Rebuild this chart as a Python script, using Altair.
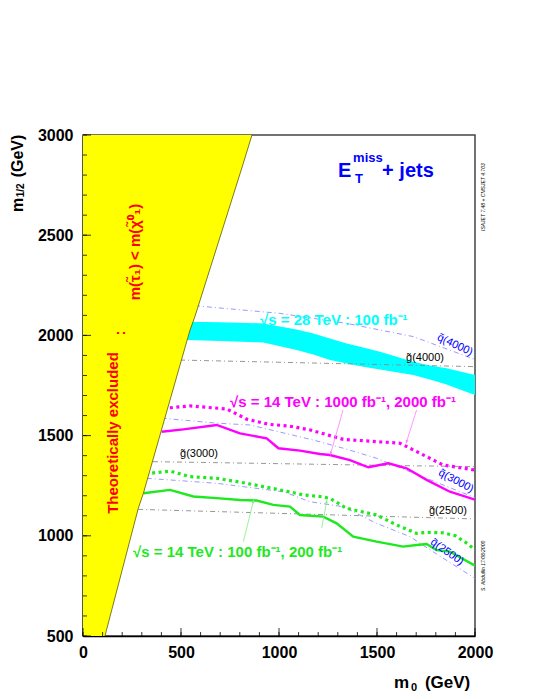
import math
import altair as alt
import pandas as pd

FONT = "Liberation Sans"

# ---------------- data ----------------
# theoretically excluded region (yellow): boundary m0 as a function of m1/2
excl_m = [500, 1137, 1212, 2027, 2094, 2859, 3000]
excl_m0 = [112, 282, 308, 546, 571, 818, 862]

# sqrt(s)=28 TeV, 100 fb-1 band (cyan)
band_m0 = [450, 530, 700, 920, 1090, 1175, 1260, 1345, 1430, 1515, 1600, 1685, 1770, 1855, 1930, 2000]
band_top = [2070, 2068, 2066, 2060, 2030, 2010, 1985, 1960, 1940, 1919, 1893, 1869, 1850, 1836, 1818, 1802]
band_bot = [1980, 1977, 1972, 1964, 1927, 1905, 1877, 1860, 1844, 1830, 1816, 1802, 1780, 1755, 1728, 1703]

# 14 TeV, 1000 fb-1 (magenta solid)
mag1_m0 = [401, 512, 682, 801, 937, 997, 1107, 1209, 1260, 1362, 1456, 1558, 1651, 1753, 1872, 2000]
mag1_m = [1519, 1531, 1553, 1511, 1486, 1437, 1425, 1408, 1403, 1378, 1342, 1362, 1337, 1279, 1220, 1180]
# 14 TeV, 2000 fb-1 (magenta dotted)
mag2_m0 = [410, 444, 546, 733, 835, 950, 1050, 1160, 1328, 1498, 1617, 1719, 1838, 2000]
mag2_m = [1638, 1639, 1648, 1633, 1582, 1556, 1548, 1528, 1481, 1470, 1462, 1412, 1353, 1328]

# 14 TeV, 100 fb-1 (green solid)
grn1_m0 = [308, 444, 563, 682, 801, 886, 971, 1056, 1107, 1226, 1294, 1379, 1498, 1634, 1702, 1753, 1804, 1872, 2000]
grn1_m = [1212, 1229, 1196, 1188, 1179, 1176, 1154, 1146, 1104, 1096, 1062, 996, 971, 946, 954, 959, 929, 921, 851]
# 14 TeV, 200 fb-1 (green dotted)
grn2_m0 = [320, 342, 444, 546, 682, 835, 1005, 1124, 1209, 1260, 1345, 1498, 1600, 1702, 1753, 1838, 1900, 1960, 2000]
grn2_m = [1308, 1312, 1323, 1295, 1287, 1262, 1229, 1204, 1196, 1187, 1137, 1104, 1054, 1012, 1017, 1015, 1000, 962, 929]

# gluino iso-mass lines (grey dash-dot)
gl4000_m0 = [495, 1000, 1500, 2000]
gl4000_m = [1877, 1866, 1855, 1844]
gl3000_m0 = [357, 1000, 1500, 2000]
gl3000_m = [1370, 1360, 1352, 1345]
gl2500_m0 = [281, 1000, 1500, 2000]
gl2500_m = [1132, 1112, 1098, 1084]

# squark iso-mass lines (blue dash-dot)
sq4000_m0 = [571, 1005, 1345, 1685, 2000]
sq4000_m = [2148, 2110, 2060, 1994, 1880]
sq3000_m0 = [401, 682, 852, 1175, 1328, 1498, 1668, 2000]
sq3000_m = [1587, 1562, 1553, 1478, 1437, 1387, 1320, 1190]
sq2500_m0 = [325, 682, 1022, 1158, 1328, 1498, 1668, 1787, 2000]
sq2500_m = [1287, 1262, 1220, 1170, 1145, 1062, 996, 920, 787]

# arrows from labels to curves: (m0 start, m start, m0 end, m end)
arrows_mag = [(1327, 1628, 1264, 1412), (1702, 1628, 1651, 1470)]
arrows_grn = [(818, 971, 869, 1171), (1218, 1039, 1243, 1170)]

x_ticks = [0, 500, 1000, 1500, 2000]
y_ticks = [500, 1000, 1500, 2000, 2500, 3000]
x_minor = list(range(0, 2001, 100))
y_minor = list(range(500, 3001, 100))

# ---------------- chart ----------------
W, H = 392, 501
XD, YD = [0, 2000], [500, 3000]
SX, SY = W / (XD[1] - XD[0]), H / (YD[1] - YD[0])

CYAN = "#00ffff"
MAG = "#ff00ff"
GRN = "#1ee81e"
RED = "#ff0000"
BLUE = "#0000ff"

xs = alt.Scale(domain=XD, nice=False, zero=False)
ys = alt.Scale(domain=YD, nice=False, zero=False)
XAX = alt.Axis(values=x_ticks, title=None, format="d", labelPadding=8, ticks=False, grid=False,
               labelFlush=False, labelOverlap=False)
YAX = alt.Axis(values=y_ticks, title=None, format="d", labelPadding=10, ticks=False, grid=False,
               labelFlush=False, labelOverlap=False)


def X(f="x"):
    return alt.X(f"{f}:Q", scale=xs, axis=XAX)


def Y(f="y"):
    return alt.Y(f"{f}:Q", scale=ys, axis=YAX)


layers = []

# cyan band
band_df = pd.DataFrame({"x": band_m0, "y": band_top, "y2": band_bot})
layers.append(alt.Chart(band_df).mark_area(color=CYAN, clip=True).encode(x=X(), y=Y(), y2="y2:Q"))


def line(m0, m, color, width, dash=None, opacity=1.0):
    df = pd.DataFrame({"x": m0, "y": m})
    kw = dict(color=color, strokeWidth=width, clip=True, opacity=opacity)
    if dash:
        kw["strokeDash"] = dash
    return alt.Chart(df).mark_line(**kw).encode(x=X(), y=Y())


GREY = "#8a8a8a"
LBLUE = "#8c8cff"
DD = [5, 3, 1, 3]
for a, b in [(gl4000_m0, gl4000_m), (gl3000_m0, gl3000_m), (gl2500_m0, gl2500_m)]:
    layers.append(line(a, b, GREY, 0.9, DD))
for a, b in [(sq4000_m0, sq4000_m), (sq3000_m0, sq3000_m), (sq2500_m0, sq2500_m)]:
    layers.append(line(a, b, LBLUE, 0.9, DD))

layers.append(line(mag2_m0, mag2_m, MAG, 3.2, [3, 3.5]))
layers.append(line(mag1_m0, mag1_m, MAG, 2.4))
layers.append(line(grn2_m0, grn2_m, GRN, 3.2, [3, 3.5]))
layers.append(line(grn1_m0, grn1_m, GRN, 2.4))

# yellow excluded region
ex_df = pd.DataFrame({"x": excl_m0, "y": excl_m, "z": [0] * len(excl_m)})
layers.append(alt.Chart(ex_df).mark_area(orient="horizontal", color="#ffff00", clip=True).encode(
    y=Y(), x=X(), x2="z:Q"))
layers.append(alt.Chart(ex_df).mark_line(color="#5a5a00", strokeWidth=0.8, clip=True, orient="horizontal").encode(
    y=Y(), x=X(), order="y:Q"))


def arrows(lst, color):
    rows = []
    heads = []
    for (x1, y1, x2, y2) in lst:
        rows.append({"x": x1, "y": y1, "x2": x2, "y2": y2})
        dx = (x2 - x1) * SX
        dy = -(y2 - y1) * SY
        ang = math.degrees(math.atan2(dx, -dy)) % 360
        heads.append({"x": x2, "y": y2, "a": ang})
    r = alt.Chart(pd.DataFrame(rows)).mark_rule(color=color, strokeWidth=0.8).encode(
        x=X(), y=Y(), x2="x2:Q", y2="y2:Q")
    h = alt.Chart(pd.DataFrame(heads)).mark_point(shape="M0,-1L0.45,0.6L-0.45,0.6Z", filled=True,
                                                   color=color, size=30, opacity=1).encode(
        x=X(), y=Y(), angle=alt.Angle("a:Q", scale=None))
    return [r, h]


layers += arrows(arrows_mag, "#ff7cff")
layers += arrows(arrows_grn, "#7cf07c")

# ticks (inside)
layers.append(alt.Chart(pd.DataFrame({"y": y_minor})).mark_rule(color="black", strokeWidth=0.8).encode(
    y=Y(), x=alt.value(0), x2=alt.value(4)))
layers.append(alt.Chart(pd.DataFrame({"y": y_ticks})).mark_rule(color="black", strokeWidth=0.8).encode(
    y=Y(), x=alt.value(0), x2=alt.value(8)))
layers.append(alt.Chart(pd.DataFrame({"x": x_minor})).mark_rule(color="black", strokeWidth=0.8).encode(
    x=X(), y=alt.value(H), y2=alt.value(H - 4)))
layers.append(alt.Chart(pd.DataFrame({"x": x_ticks})).mark_rule(color="black", strokeWidth=0.8).encode(
    x=X(), y=alt.value(H), y2=alt.value(H - 8)))


def txt(s, x, y, size, color, angle=0, align="left", baseline="middle", weight="bold", style="normal"):
    df = pd.DataFrame({"x": [x], "y": [y], "t": [s]})
    return alt.Chart(df).mark_text(font=FONT, fontSize=size, color=color, angle=angle, align=align,
                                   baseline=baseline, fontWeight=weight, fontStyle=style, clip=False).encode(
        x=X(), y=Y(), text="t:N")


# labels
layers.append(txt("\u221as = 28 TeV : 100 fb\u207b\u00b9", 903, 2077, 15, CYAN))
layers.append(txt("\u221as = 14 TeV : 1000 fb\u207b\u00b9,  2000 fb\u207b\u00b9", 750, 1668, 15, MAG))
layers.append(txt("\u221as = 14 TeV : 100 fb\u207b\u00b9,  200 fb\u207b\u00b9", 255, 919, 15, GRN))

layers.append(txt("g\u0303(4000)", 1745, 1887, 11, "black", align="center", weight="normal"))
layers.append(txt("g\u0303(3000)", 592, 1408, 11, "black", align="center", weight="normal"))
layers.append(txt("g\u0303(2500)", 1862, 1124, 11, "black", align="center", weight="normal"))
layers.append(txt("q\u0303(4000)", 1898, 1952, 11, BLUE, angle=25, align="center", weight="normal"))
layers.append(txt("q\u0303(3000)", 1903, 1273, 11, BLUE, angle=28, align="center", weight="normal"))
layers.append(txt("q\u0303(2500)", 1857, 919, 11, BLUE, angle=35, align="center", weight="normal"))

# theoretically excluded
layers.append(txt("Theoretically excluded", 153, 1513, 15, RED, angle=270, align="center"))
layers.append(txt(":", 190, 2012, 15, RED, angle=270, align="center"))
layers.append(txt("m(\u03c4\u0303\u2081) < m(\u03c7\u0303\u2070\u2081)", 265, 2416, 15, RED, angle=270, align="center"))

# E_T^miss + jets
layers.append(txt("E", 1301, 2790, 20, BLUE, baseline="alphabetic"))
layers.append(txt("miss", 1378, 2865, 13, BLUE, baseline="alphabetic"))
layers.append(txt("T", 1388, 2760, 13, BLUE, baseline="alphabetic"))
layers.append(txt("+  jets", 1526, 2790, 20, BLUE, baseline="alphabetic"))

# axis titles
layers.append(txt("m", 1625, 265, 17, "black", align="center"))
layers.append(txt("0", 1689, 240, 11, "black", align="center"))
layers.append(txt("(GeV)", 1860, 265, 17, "black", align="center"))
layers.append(txt("m", -332, 2651, 16, "black", angle=270, align="center"))
layers.append(txt("1/2", -318, 2724, 10, "black", angle=270, align="center"))
layers.append(txt("(GeV)", -332, 2895, 16, "black", angle=270, align="center"))

# small credits
layers.append(txt("ISAJET 7.48  +  CMSJET 4.703", 2040, 2690, 5, "black", angle=270, align="center", weight="normal", style="italic"))
layers.append(txt("S. Abdullin   17/08/2000", 2040, 850, 5, "black", angle=270, align="center", weight="normal", style="italic"))

chart = alt.layer(*layers).properties(
    width=W, height=H,
    autosize=alt.AutoSizeParams(type="none"),
    padding={"left": 75, "top": 127, "right": 57, "bottom": 62},
).configure_view(stroke="#444444", strokeWidth=1.5).configure_axis(
    grid=False, ticks=False, domainColor="black", domainWidth=1.5,
    labelFont=FONT, labelFontSize=16, labelFontWeight="bold", labelColor="black",
)

chart.save("out.html", embed_options={"renderer": "svg", "actions": False})
